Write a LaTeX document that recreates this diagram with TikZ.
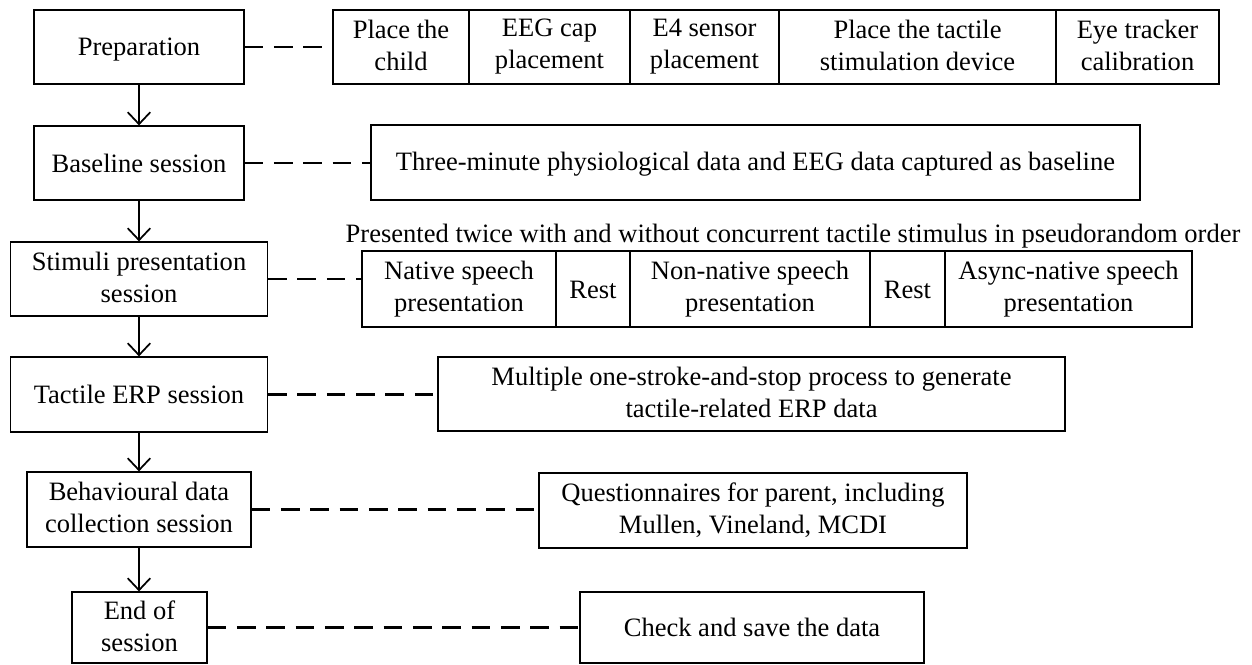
\documentclass[tikz,border=0pt]{standalone}
\usepackage{fontspec}
\setmainfont{Liberation Serif}
\usetikzlibrary{arrows.meta}
% line strut that keeps every label on the same vertical footing
\newcommand{\labelstrut}{\rule[-2.7pt]{0pt}{19.5pt}}
\begin{document}
\begin{tikzpicture}[x=0.75pt,y=-0.75pt,
  every node/.style={font=\fontsize{19.9}{24}\selectfont, inner sep=0pt, align=center,
    execute at begin node=\labelstrut, execute at end node=\labelstrut},
  box/.style={draw, line width=0.9pt, minimum height=#1},
  box/.default=55.5pt,
  flow/.style={line width=1.3pt, -{Straight Barb[length=9pt,width=17pt,line width=1.3pt]}},
  link/.style={line width=1.6pt, dash pattern=on 14pt off 8pt}]
\useasboundingbox (0,0) rectangle (1252,664);

% main sequence of sessions
\node[box, minimum width=157.5pt] (prep) at (139,47) {Preparation};
\node[box, minimum width=157.5pt] (base) at (139,163) {Baseline session};
\node[box, minimum width=192.75pt] (stim) at (139,279) {Stimuli presentation\\session};
\node[box=56.25pt, minimum width=192.75pt] (tact) at (139,394.5) {Tactile ERP session};
\node[box=56.25pt, minimum width=168pt] (behav) at (139,509.5) {Behavioural data\\collection session};
\node[box=53.25pt, minimum width=101.25pt] (end) at (139.5,627.5) {End of\\session};

% preparation steps
\node[box, minimum width=102pt] (p1) at (401,47) {Place the\\child};
\node[box, minimum width=120.75pt] (p2) at (549.5,47) {EEG cap\\placement};
\node[box, minimum width=111.75pt] (p3) at (704.5,47) {E4 sensor\\placement};
\node[box, minimum width=207.75pt] (p4) at (917.5,47) {Place the tactile\\stimulation device};
\node[box, minimum width=122.25pt] (p5) at (1137.5,47) {Eye tracker\\calibration};

% baseline
\node[box=56.25pt, minimum width=576.75pt] (three) at (755.5,162.5) {Three-minute physiological data and EEG data captured as baseline};

% stimuli presentation
\node (pres) at (793,234) {Presented twice with and without concurrent tactile stimulus in pseudorandom order};
\node[box=57pt, minimum width=145.5pt] (s1) at (459,289) {Native speech\\presentation};
\node[box=57pt, minimum width=55.5pt] (s2) at (593,289) {Rest};
\node[box=57pt, minimum width=180pt] (s3) at (750,289) {Non-native speech\\presentation};
\node[box=57pt, minimum width=56.25pt] (s4) at (907.5,289) {Rest};
\node[box=57pt, minimum width=185.25pt] (s5) at (1068.5,289) {Async-native speech\\presentation};

% tactile ERP
\node[box, minimum width=470.25pt] (mult) at (751.5,394) {Multiple one-stroke-and-stop process to generate\\tactile-related ERP data};

% behavioural data
\node[box=56.25pt, minimum width=321pt] (quest) at (753,510.5) {Questionnaires for parent, including\\Mullen, Vineland, MCDI};

% end
\node[box=53.25pt, minimum width=258pt] (check) at (752,627.5) {Check and save the data};

% flow arrows
\draw[flow] (prep.south) -- (base.north);
\draw[flow] (base.south) -- (stim.north);
\draw[flow] (stim.south) -- (tact.north);
\draw[flow] (tact.south) -- (behav.north);
\draw[flow] (behav.south) -- (behav.south |- end.north);

% dashed links to details
\draw[link] (prep.east) -- (p1.west);
\draw[link] (base.east) -- (base.east -| three.west);
\draw[link] (stim.east) -- (stim.east -| s1.west);
\draw[link] (tact.east) -- (tact.east -| mult.west);
\draw[link] (behav.east) -- (behav.east -| quest.west);
\draw[link] (end.east) -- (end.east -| check.west);
\end{tikzpicture}
\end{document}
